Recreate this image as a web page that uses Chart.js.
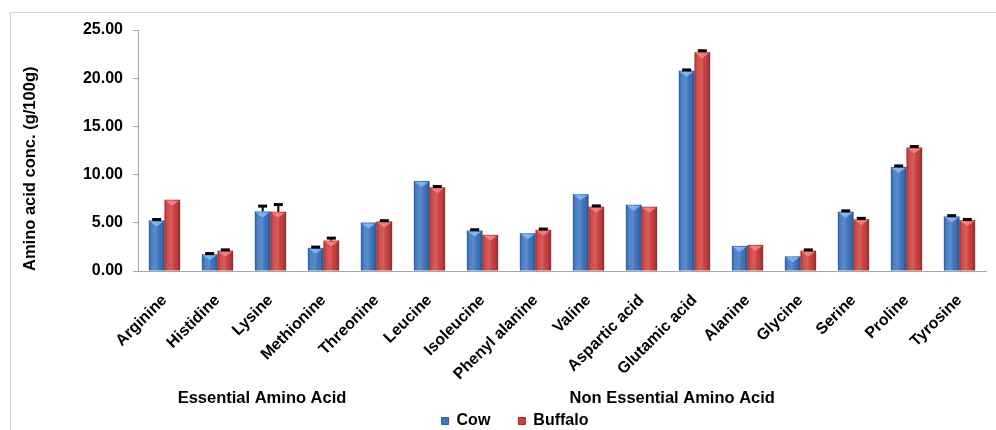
<!DOCTYPE html>
<html>
<head>
<meta charset="utf-8">
<script src="https://cdn.jsdelivr.net/npm/chart.js@4/dist/chart.umd.min.js"></script>
<style>
  html, body { margin: 0; padding: 0; background: #fff; }
  #wrap { position: relative; width: 996px; height: 430px; }
  #frame { position: absolute; left: 10px; top: 12px; width: 1000px; height: 440px; border: 1px solid #d4d4d4; box-sizing: border-box; }
  canvas { position: absolute; left: 0; top: 0; }
</style>
</head>
<body>
<div id="wrap">
  <div id="frame"></div>
  <canvas id="c" width="996" height="430"></canvas>
</div>
<script>
const categories = ["Arginine","Histidine","Lysine","Methionine","Threonine","Leucine","Isoleucine","Phenyl alanine","Valine","Aspartic acid","Glutamic acid","Alanine","Glycine","Serine","Proline","Tyrosine"];
const cowValues     = [5.24, 1.73, 6.18, 2.40, 5.03, 9.33, 4.20, 3.92, 7.95, 6.88, 20.76, 2.60, 1.52, 6.14, 10.80, 5.66];
const buffaloValues = [7.39, 2.11, 6.14, 3.16, 5.14, 8.68, 3.75, 4.27, 6.67, 6.67, 22.70, 2.71, 2.11, 5.38, 12.81, 5.27];
const cowErrors     = [0.10, 0.08, 0.55, 0.08, 0.00, 0.00, 0.08, 0.00, 0.00, 0.00, 0.10, 0.00, 0.00, 0.10, 0.10, 0.08];
const buffaloErrors = [0.00, 0.08, 0.75, 0.25, 0.08, 0.08, 0.00, 0.08, 0.08, 0.00, 0.15, 0.00, 0.08, 0.08, 0.10, 0.08];
const groupLabels = ["Essential Amino Acid", "Non Essential Amino Acid"];
const groupCenters = [1.84, 9.58];
const yTicks = [0, 5, 10, 15, 20, 25];

const FONT = "'Liberation Sans', Arial, sans-serif";

const shadePlugin = {
  id: 'shade',
  afterLayout(chart) {
    const lg = chart.legend;
    if (lg) { lg.left += 17; lg.right += 17; lg.top += 1; lg.bottom += 1; }
  },
  afterDatasetsDraw(chart) {
    const ctx = chart.ctx;
    chart.data.datasets.forEach((ds, di) => {
      const meta = chart.getDatasetMeta(di);
      const errs = ds.errors;
      meta.data.forEach((bar, i) => {
        const w = bar.width, x0 = bar.x - w / 2, top = bar.y, base = bar.base;
        const g = ctx.createLinearGradient(x0, 0, x0 + w, 0);
        g.addColorStop(0, 'rgba(0,0,0,0.28)');
        g.addColorStop(0.25, 'rgba(255,255,255,0.10)');
        g.addColorStop(0.45, 'rgba(255,255,255,0.16)');
        g.addColorStop(0.8, 'rgba(0,0,0,0.05)');
        g.addColorStop(1, 'rgba(0,0,0,0.32)');
        ctx.save();
        ctx.fillStyle = g;
        ctx.fillRect(x0, top, w, base - top);
        ctx.fillStyle = ds.hiColor;
        ctx.beginPath();
        ctx.moveTo(x0 + 1, top + 1);
        ctx.lineTo(x0 + w - 1, top + 1);
        ctx.lineTo(bar.x, top + 6);
        ctx.closePath();
        ctx.fill();
        const e = errs[i];
        if (e > 0) {
          const ys = chart.scales.y;
          const yTop = ys.getPixelForValue(ds.data[i] + e);
          ctx.strokeStyle = '#000';
          ctx.lineWidth = 2;
          ctx.beginPath();
          ctx.moveTo(bar.x, top);
          ctx.lineTo(bar.x, yTop);
          ctx.stroke();
          ctx.lineWidth = 3;
          ctx.beginPath();
          ctx.moveTo(bar.x - 4.5, yTop);
          ctx.lineTo(bar.x + 4.5, yTop);
          ctx.stroke();
        }
        ctx.restore();
      });
    });
  },
  afterDraw(chart) {
    const ctx = chart.ctx;
    const xs = chart.scales.x;
    ctx.save();
    ctx.font = "bold 16.5px " + FONT;
    ctx.fillStyle = '#000';
    ctx.textAlign = 'center';
    ctx.textBaseline = 'middle';
    groupLabels.forEach((t, k) => {
      ctx.fillText(t, xs.getPixelForValue(groupCenters[k]), 398);
    });
    ctx.restore();
  }
};

new Chart(document.getElementById('c'), {
  type: 'bar',
  data: {
    labels: categories,
    datasets: [
      { label: 'Cow', data: cowValues, errors: cowErrors, backgroundColor: '#3b76c2', borderColor: '#2d5c9a', borderWidth: 0, hiColor: 'rgba(140,195,255,0.75)' },
      { label: 'Buffalo', data: buffaloValues, errors: buffaloErrors, backgroundColor: '#cf3d3b', borderColor: '#9e2a28', borderWidth: 0, hiColor: 'rgba(255,140,140,0.75)' }
    ]
  },
  options: {
    responsive: false,
    animation: false,
    events: [],
    categoryPercentage: 0.59,
    barPercentage: 1.0,
    layout: { padding: { left: 10, right: 10, top: 30, bottom: -8 } },
    plugins: {
      tooltip: { enabled: false },
      legend: {
        position: 'bottom',
        labels: {
          usePointStyle: true,
          pointStyle: 'rect',
          boxWidth: 7,
          boxHeight: 7,
          padding: 28,
          color: '#000',
          font: { family: FONT, size: 16, weight: 'bold' },
          generateLabels(chart) {
            return chart.data.datasets.map((ds, i) => ({
              text: ds.label, fillStyle: ds.backgroundColor, strokeStyle: ds.borderColor,
              lineWidth: 1, pointStyle: 'rect', datasetIndex: i, fontColor: '#000'
            }));
          }
        }
      }
    },
    scales: {
      x: {
        grid: { display: false },
        border: { display: true, color: '#a6a6a6', width: 1 },
        ticks: {
          color: '#000',
          maxRotation: 45, minRotation: 45,
          autoSkip: false,
          padding: 12,
          font: { family: FONT, size: 16, weight: 'bold' }
        },
        afterFit(s) { s.height = 113; }
      },
      y: {
        min: 0, max: 25,
        afterBuildTicks(s) { s.ticks = yTicks.map(v => ({ value: v })); },
        grid: { drawOnChartArea: false, drawTicks: true, tickLength: 5, color: '#a6a6a6' },
        border: { display: true, color: '#a6a6a6', width: 1 },
        ticks: {
          color: '#000',
          padding: 10,
          font: { family: FONT, size: 16, weight: 'bold' },
          callback: v => Number(v).toFixed(2)
        },
        title: {
          display: true,
          align: 'start',
          text: 'Amino acid conc. (g/100g)',
          color: '#000',
          padding: { top: 11, bottom: 0 },
          font: { family: FONT, size: 16.5, weight: 'bold' }
        },
        afterFit(s) { s.width = 128; }
      }
    }
  },
  plugins: [shadePlugin]
});
</script>
</body>
</html>
